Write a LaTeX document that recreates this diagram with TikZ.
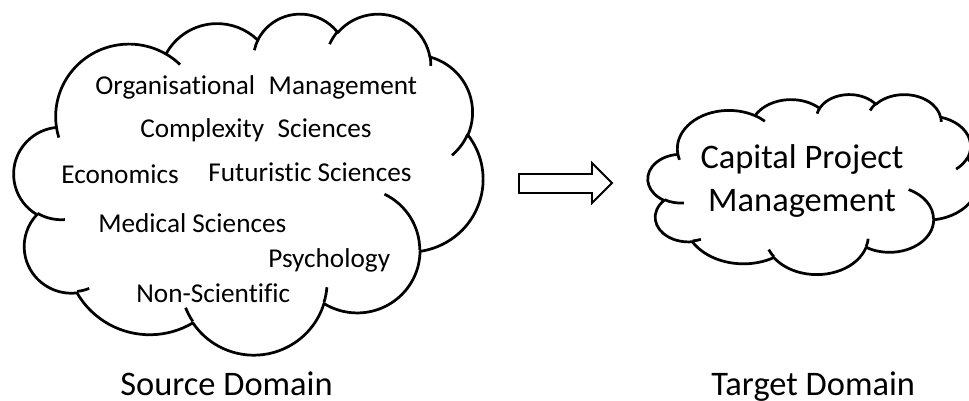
\documentclass[tikz,border=0pt]{standalone}
\usepackage{fontspec}
\setmainfont{Carlito}[Ligatures=NoCommon]
\usepackage{tikz}

% one puff of a cloud; start and sweep are taken along the ray from the centre
\newcommand{\puffarc}[4]{arc[x radius=#1, y radius=#2,
  start angle={atan2(#1*sin(#3),#2*cos(#3))},
  delta angle={mod(atan2(#1*sin(#3+#4),#2*cos(#3+#4))-atan2(#1*sin(#3),#2*cos(#3))+720,360)}]}

% cloud outline in a 43.2 x 43.2 box, y pointing down
\newcommand{\cloudrim}{(3.9,14.37)
  \puffarc{6.753}{9.19}{-190.4875}{123.7805}
  \puffarc{5.333}{7.267}{-144.1024}{89.9452}
  \puffarc{4.365}{5.945}{-145.8079}{99.723}
  \puffarc{4.857}{6.595}{-130.9861}{117.2417}
  \puffarc{5.333}{7.273}{-78.7089}{109.0269}
  \puffarc{6.775}{9.22}{-46.2673}{130.269}
  \puffarc{5.785}{7.867}{0.625}{114.0333}
  \puffarc{6.752}{9.215}{22.4516}{115.1726}
  \puffarc{7.72}{10.543}{66.2426}{75.711}
  \puffarc{4.36}{5.918}{-274.9421}{146.7356}
  \puffarc{4.345}{5.945}{-246.8285}{152.5189} -- cycle}

% short creases where the puffs meet
\newcommand{\cloudfolds}{%
  (4.693,26.177) \puffarc{4.345}{5.945}{86.742}{26.4295}
  (6.928,34.899) \puffarc{4.36}{5.918}{73.6105}{11.4475}
  (16.478,39.09) \puffarc{6.752}{9.215}{137.6242}{14.0811}
  (28.827,34.751) \puffarc{6.752}{9.215}{6.4533}{15.9984}
  (34.129,22.954) \puffarc{5.785}{7.867}{-70.2924}{70.9174}
  (41.798,15.354) \puffarc{5.333}{7.273}{30.318}{27.7515}
  (38.324,5.426) \puffarc{4.857}{6.595}{-13.7443}{14.8589}
  (29.078,3.952) \puffarc{4.857}{6.595}{-149.1815}{18.1954}
  (22.141,4.72) \puffarc{4.365}{5.945}{-163.4943}{17.6864}
  (14,5.192) \puffarc{6.753}{9.19}{-66.707}{12.3194}
  (4.127,15.789) \puffarc{6.753}{9.19}{157.6544}{11.8582}}

\begin{document}
\begin{tikzpicture}[x=0.02cm, y=-0.02cm,
    puff/.style={line width=1.55pt, line join=round},
    topic/.style={inner sep=0pt, anchor=base west, font=\fontsize{15.5}{18}\selectfont},
    domaintxt/.style={inner sep=0pt, font=\fontsize{19.6}{25}\selectfont}]
  \clip (0,0) rectangle (969,401);

  % source cloud
  \begin{scope}[shift={(14,13)}, x=0.21713cm, y=-0.15787cm]
    \draw[puff] \cloudrim;
    \draw[puff] \cloudfolds;
  \end{scope}
  \node[topic] (orgmgmt) at (95,95) {Organisational\enspace Management};
  \node[topic] (complexity) at (140,138) {Complexity\enspace Sciences};
  \node[topic] (economics) at (61,184) {Economics};
  \node[topic] (futuristic) at (208,182) {Futuristic Sciences};
  \node[topic] (medical) at (98,233) {Medical Sciences};
  \node[topic] (psychology) at (268,268) {Psychology};
  \node[topic] (nonsci) at (136,303) {Non-Scientific};
  \node[domaintxt, anchor=base west] (srclbl) at (120,396) {Source Domain};

  % hollow block arrow between the two domains
  \draw[line width=1.1pt, line join=miter]
    (519,174) -- (592,174) -- (592,163) -- (612,183) -- (592,203) -- (592,193) -- (519,193) -- cycle;

  % target cloud
  \begin{scope}[shift={(648,94)}, x=0.15278cm, y=-0.08333cm]
    \draw[puff] \cloudrim;
    \draw[puff] \cloudfolds;
  \end{scope}
  \node[domaintxt, align=center] (cpm) at (802,181) {Capital Project\\Management};
  \node[domaintxt, anchor=base west] (tgtlbl) at (711,396) {Target Domain};
\end{tikzpicture}
\end{document}
